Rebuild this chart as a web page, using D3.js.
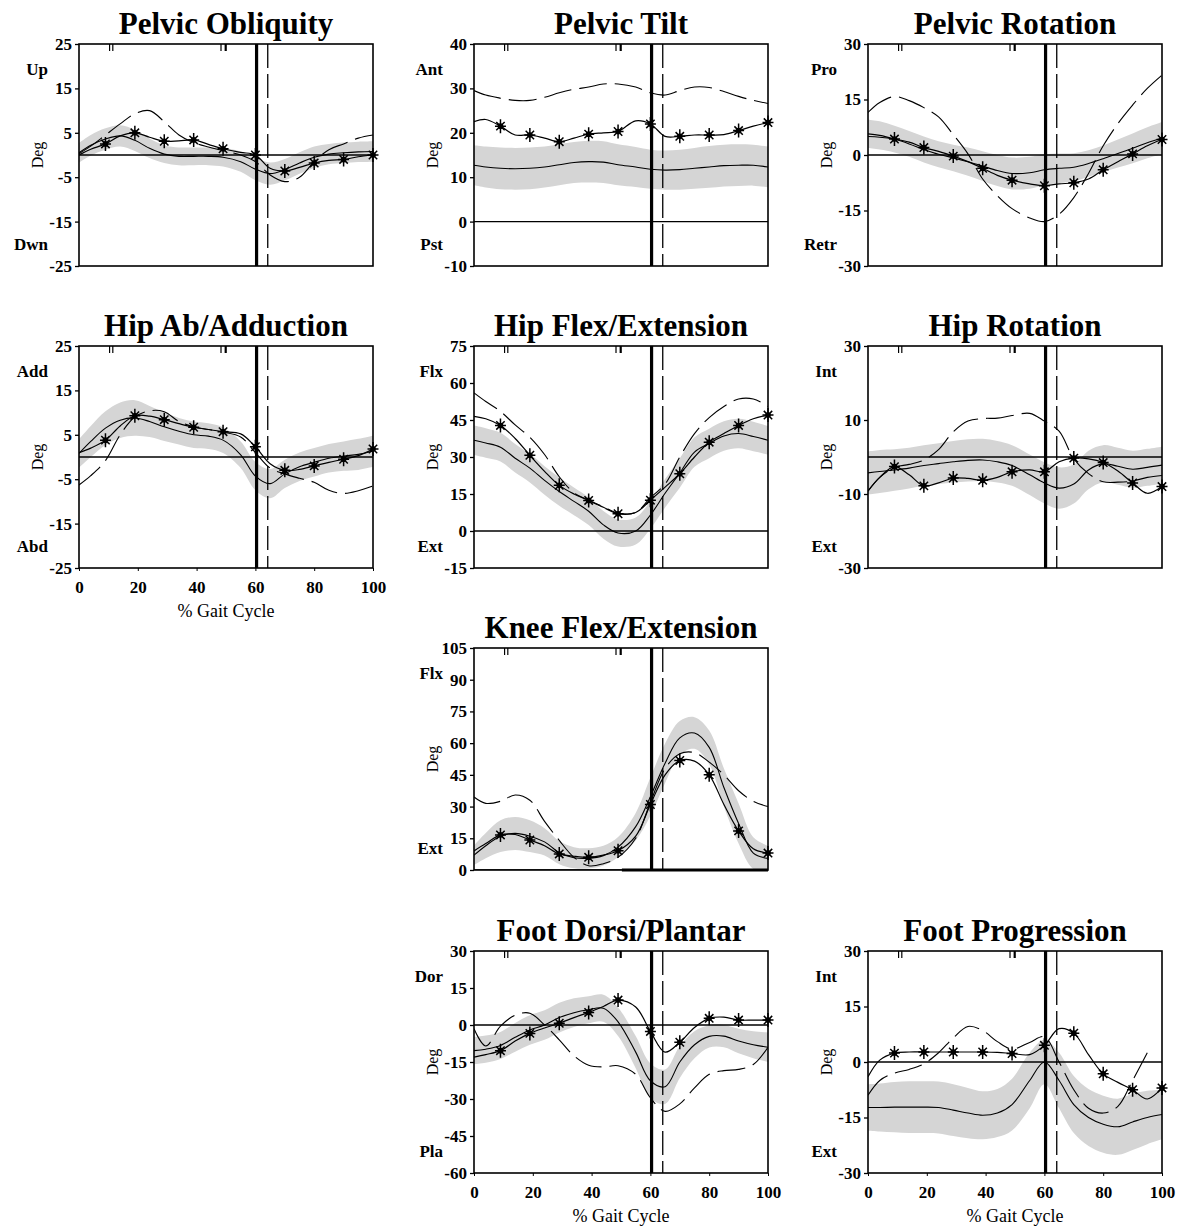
<!DOCTYPE html>
<html><head><meta charset="utf-8">
<script src="https://cdn.jsdelivr.net/npm/d3@7"></script>
<style>body{margin:0;background:#fff}svg text{font-family:"Liberation Serif","Times New Roman",serif;fill:#000}</style>
</head><body><svg id="c" width="1185" height="1230"></svg>
<script>
// ---- shared x grid (% gait cycle) and events ----
const pct = [0,4,9,14,19,24,29,34,39,44,49,55,60,65,70,75,80,85,90,95,100];
const starIdx = [2,4,6,8,10,12,14,16,18,20];
const xTicks = [0,20,40,60,80,100];
const toeOffPatient = 60.4;
const toeOffNormal = 64.2;
const eventTicks = [10.4, 11.5, 48.3, 49.9];
const eventTickWidths = [1.2, 1.2, 1.2, 2.2];
const kneeThickSpan = [50.3, 100];

// ---- Pelvic Obliquity ----
const obliqTicks = [25,15,5,-5,-15,-25];
const obliqMean = [0.5,2.2,3.6,4.3,3.3,1.5,0.2,-0.3,-0.3,-0.3,-0.5,-1.5,-3.2,-4.2,-3.3,-1.8,-0.5,0.2,0.5,0.7,0.8];
const obliqSD = [2.2,2.3,2.4,2.4,2.4,2.2,2.0,2.0,2.0,2.0,2.1,2.3,2.5,2.5,2.4,2.4,2.4,2.3,2.3,2.3,2.3];
const obliqPatient = [0,1.3,2.5,4.3,5.0,4.0,3.1,3.2,3.4,2.4,1.4,0.6,0.0,-3.0,-3.6,-2.8,-1.8,-1.2,-1.0,-0.4,0];
const obliqDashed = [0.3,2,4.5,7,9.3,10,7.5,4.5,2.8,1.8,1.0,0,-1.5,-4.5,-6,-5,-1.5,1.2,2.5,3.8,4.5];

// ---- Pelvic Tilt ----
const tiltTicks = [40,30,20,10,0,-10];
const tiltMean = [12.7,12.3,12.0,11.9,12.0,12.3,12.8,13.3,13.5,13.4,12.8,12.3,11.8,11.6,11.7,12.0,12.3,12.6,12.7,12.7,12.3];
const tiltSD = [4.5,4.6,4.7,4.7,4.7,4.6,4.6,4.6,4.7,4.7,4.6,4.5,4.4,4.4,4.5,4.6,4.7,4.7,4.7,4.6,4.6];
const tiltPatient = [22.5,23,21.5,19.5,19.5,18.8,18,18.8,19.7,20,20.3,22.7,22,19.2,19.2,19.5,19.5,19.6,20.5,21.5,22.3];
const tiltDashed = [29.5,28.5,27.8,27.3,27.3,28,29,29.8,30.3,31,31,30.3,29,28.5,29.5,30.3,30.2,29.3,28.2,27.3,26.6];

// ---- Pelvic Rotation ----
const protTicks = [30,15,0,-15,-30];
const protMean = [5.7,5.3,4.3,3,1.5,0.2,-0.8,-1.8,-3,-4.2,-5,-4.8,-4,-3.6,-3.3,-2.3,-1,0.4,1.8,3.3,4.6];
const protSD = [3.8,3.8,3.6,3.5,3.5,3.5,3.6,3.8,4,4.2,4.3,4.3,4.2,4,3.8,3.6,3.6,3.8,4,4.2,4.3];
const protPatient = [5,4.8,4.3,3.5,2,1,-0.3,-1.8,-3.6,-5.5,-6.8,-7.8,-8.3,-7.8,-7.5,-6.5,-4,-1.8,0.3,2.5,4.2];
const protDashed = [11.5,14.2,15.8,14.7,12.8,10.3,5.5,0.3,-6.5,-11,-14.5,-17,-18,-16,-11.5,-5,2.5,8.5,13.5,18,21.6];

// ---- Hip Ab/Adduction ----
const abdTicks = [25,15,5,-5,-15,-25];
const abdMean = [0.8,3.5,6.5,8.3,8.8,8,6.8,5.8,5,4.7,3.8,0.5,-4.3,-6,-3.8,-2.2,-1.2,-0.3,0.2,0.6,1.3];
const abdSD = [3.2,3.5,3.8,4,4,3.5,3.2,3,3,2.9,2.9,3,3.2,3.3,3.2,3.2,3.2,3.2,3.3,3.5,3.5];
const abdPatient = [1,2,3.8,7,9.3,9.2,8.4,7.5,6.7,6.2,5.7,5.2,2.3,-1.5,-3,-2.8,-2,-1.2,-0.5,0.3,1.8];
const abdDashed = [-6.3,-4.2,-0.8,5,9,10.4,10.2,8,6.8,6.2,5.6,4.5,1,-2.5,-3.8,-4.8,-5.7,-7.5,-8.2,-7.6,-6.5];

// ---- Hip Flex/Extension ----
const hipTicks = [75,60,45,30,15,0,-15];
const hipMean = [36.8,35.7,34,29.5,25.5,20.5,16,12,8,2.5,-0.8,0,6.5,15.3,23.5,32,35.5,38.5,39.5,38.3,36.8];
const hipSD = [6,6,5.8,5.8,5.8,5.8,5.8,5.6,5.6,5.6,5.5,5.5,5.6,5.8,6,6,6,6,6,6,5.8];
const hipPatient = [46.5,45.5,42.8,37.5,30.7,24.2,18.5,15,12.4,9.6,7.0,7.5,12.5,17.8,23.2,30,36,39.5,42.8,45.5,47];
const hipDashed = [56,52.5,48.5,43,38,31,22,15.5,12.5,9.8,7.3,7.5,13.5,19,30,39.5,46,50.5,53.5,53.5,50.5];

// ---- Hip Rotation ----
const hrotTicks = [30,10,-10,-30];
const hrotMean = [-4.3,-3.9,-3.5,-3,-2.3,-1.8,-1.3,-0.9,-0.8,-1.3,-2.3,-4.8,-7,-8.4,-7.3,-3.5,-1.8,-2.5,-3.3,-2.8,-2.2];
const hrotSD = [5.8,5.8,5.6,5.5,5.5,5.5,5.6,5.7,5.7,5.6,5.5,5.5,5.6,5.6,5.3,5.2,5,5,5,5,5];
const hrotPatient = [-9.2,-5.5,-2.6,-4.8,-7.8,-7,-5.7,-5.8,-6.3,-5.5,-4,-3.5,-4,-1.3,-0.3,-0.5,-1.5,-3.8,-7,-9.8,-8];
const hrotDashed = [-9.2,-5.5,-2.8,-2,-0.8,2,6.8,9.7,10.4,10.5,11.2,11.8,9.7,7,-0.5,-4.5,-6.7,-6.8,-6.5,-5.5,-5];

// ---- Knee Flex/Extension ----
const kneeTicks = [105,90,75,60,45,30,15,0];
const kneeMean = [7,11.5,16,17.3,16,13.3,8.2,5.8,5.5,6.8,10.8,20.5,34.7,50.5,62.5,64.8,58,39,22,8,5.5];
const kneeSD = [4.7,6,7.5,7.8,7.5,6.5,5.5,5,4.8,4.7,4.8,6.5,9,9.3,8,7.5,8,9,9.5,7.5,6];
const kneePatient = [9,12.5,16.6,16.8,14.2,11.5,7.6,6.5,6,7,9.1,16,31,45,51.8,51.5,45,31,18.5,10,8];
const kneeDashed = [34.5,31.5,32.5,35.5,33,23,14,6,2,3,6,15,32,48,55,55.5,51,45,37.5,32.5,30];

// ---- Foot Dorsi/Plantar ----
const ankTicks = [30,15,0,-15,-30,-45,-60];
const ankMean = [-10.4,-9.8,-8.3,-5,-2,0,3,5,6.2,6.8,1.3,-11,-22.6,-25,-15,-8,-4.6,-4.5,-6.5,-8,-9];
const ankSD = [5.5,5.5,5.5,5.8,6,6,6,5.8,5.5,5.5,5.8,6.5,7,7,6.5,5.5,4.5,4.5,5,5.5,6];
const ankPatient = [-13,-12,-10.4,-6.5,-3.4,-1.2,0.7,3,5.1,7.5,10.1,7.3,-2.6,-11,-7,-1,2.7,3.2,2,2,2];
const ankDashed = [-1.5,-8.5,-0.5,4,4.8,0,-6,-12.5,-16.3,-17,-16.5,-20,-29.5,-35,-32,-25.5,-20,-18.5,-18,-16,-9];

// ---- Foot Progression ----
const fpaTicks = [30,15,0,-15,-30];
const fpaMean = [-12.3,-12.3,-12.2,-12.2,-12.2,-12.3,-13,-13.8,-14.4,-13.8,-11.5,-5,0,-5,-11.5,-15,-16.8,-17.5,-16.2,-15,-14.2];
const fpaSD = [6.3,6.5,6.8,7,7,7,7,6.8,6.5,6.5,7,7.5,6,7.5,7.7,7.7,7.7,7.6,7.6,7.2,6.7];
const fpaPatient = [-4,0.5,2.4,2.7,2.7,2.7,2.7,2.7,2.7,2.6,2.3,2,4.5,9,7.8,2,-3.2,-5.5,-7.5,-10,-7];
const fpaDashed = [-9,-5,-3,-2,-0.5,2.5,6.5,9.6,8.5,5.5,3.5,5.3,6.8,0,-7.5,-12.5,-13.8,-12,-5,2.5,null];

// ---- panel list (built from the arrays above) ----
const panels = [
  {title:"Pelvic Obliquity", col:0,row:0, domain:[-25,25], ticks:obliqTicks, dir:["Up","Dwn"], mean:obliqMean, sd:obliqSD, pat:obliqPatient, dash:obliqDashed},
  {title:"Pelvic Tilt", col:1,row:0, domain:[-10,40], ticks:tiltTicks, dir:["Ant","Pst"], mean:tiltMean, sd:tiltSD, pat:tiltPatient, dash:tiltDashed},
  {title:"Pelvic Rotation", col:2,row:0, domain:[-30,30], ticks:protTicks, dir:["Pro","Retr"], mean:protMean, sd:protSD, pat:protPatient, dash:protDashed},
  {title:"Hip Ab/Adduction", col:0,row:1, domain:[-25,25], ticks:abdTicks, dir:["Add","Abd"], mean:abdMean, sd:abdSD, pat:abdPatient, dash:abdDashed, xAxis:true},
  {title:"Hip Flex/Extension", col:1,row:1, domain:[-15,75], ticks:hipTicks, dir:["Flx","Ext"], mean:hipMean, sd:hipSD, pat:hipPatient, dash:hipDashed},
  {title:"Hip Rotation", col:2,row:1, domain:[-30,30], ticks:hrotTicks, dir:["Int","Ext"], mean:hrotMean, sd:hrotSD, pat:hrotPatient, dash:hrotDashed},
  {title:"Knee Flex/Extension", col:1,row:2, domain:[0,105], ticks:kneeTicks, dir:["Flx","Ext"], mean:kneeMean, sd:kneeSD, pat:kneePatient, dash:kneeDashed, thick:kneeThickSpan},
  {title:"Foot Dorsi/Plantar", col:1,row:3, domain:[-60,30], ticks:ankTicks, dir:["Dor","Pla"], mean:ankMean, sd:ankSD, pat:ankPatient, dash:ankDashed, xAxis:true},
  {title:"Foot Progression", col:2,row:3, domain:[-30,30], ticks:fpaTicks, dir:["Int","Ext"], mean:fpaMean, sd:fpaSD, pat:fpaPatient, dash:fpaDashed, xAxis:true}
];

const svg = d3.select("#c");
const W = 294, H = 222;
const colX = [79, 474, 868], rowY = [44, 346, 648, 951];
const curve = d3.curveCatmullRom.alpha(0.5);
const starPath = "M0,-7V7M-5.5,0H5.5M-4.2,-4.2L4.2,4.2M-4.2,4.2L4.2,-4.2";

panels.forEach((p, i) => {
  const g = svg.append("g").attr("transform", `translate(${colX[p.col]},${rowY[p.row]})`);
  const x = d3.scaleLinear().domain([0,100]).range([0,W]);
  const y = d3.scaleLinear().domain(p.domain).range([H,0]);
  const clipId = "clip" + i;
  g.append("clipPath").attr("id", clipId).append("rect").attr("width", W).attr("height", H);
  const pg = g.append("g").attr("clip-path", `url(#${clipId})`);
  const rows = pct.map((t,j) => ({t, m:p.mean[j], s:p.sd[j], pv:p.pat[j], dv:p.dash[j]}));

  // normative band
  pg.append("path").datum(rows)
    .attr("d", d3.area().x(d=>x(d.t)).y0(d=>y(d.m-d.s)).y1(d=>y(d.m+d.s)).curve(curve))
    .attr("fill", "#d5d5d5");
  // zero line
  pg.append("line").attr("x1",0).attr("x2",W).attr("y1",y(0)).attr("y2",y(0))
    .attr("stroke","#000").attr("stroke-width",1.3);
  // toe-off lines
  pg.append("line").attr("x1",x(toeOffPatient)).attr("x2",x(toeOffPatient)).attr("y1",0).attr("y2",H)
    .attr("stroke","#000").attr("stroke-width",3.2);
  pg.append("line").attr("x1",x(toeOffNormal)).attr("x2",x(toeOffNormal)).attr("y1",0).attr("y2",H)
    .attr("stroke","#000").attr("stroke-width",1.3).attr("stroke-dasharray","24,6");
  // event ticks at top
  eventTicks.forEach((e,k) => {
    pg.append("line").attr("x1",x(e)).attr("x2",x(e)).attr("y1",0).attr("y2",7)
      .attr("stroke","#000").attr("stroke-width",eventTickWidths[k]);
  });
  const lineGen = key => d3.line().defined(d => d[key] != null).x(d=>x(d.t)).y(d=>y(d[key])).curve(curve);
  // normative mean
  pg.append("path").datum(rows).attr("d", lineGen("m")).attr("fill","none").attr("stroke","#000").attr("stroke-width",1.1);
  // dashed series
  pg.append("path").datum(rows).attr("d", lineGen("dv")).attr("fill","none").attr("stroke","#000")
    .attr("stroke-width",1.1).attr("stroke-dasharray","28,8");
  // patient series with stars
  pg.append("path").datum(rows).attr("d", lineGen("pv")).attr("fill","none").attr("stroke","#000").attr("stroke-width",1.2);
  const stars = g.append("g").selectAll("g").data(starIdx.map(j => rows[j])).join("g")
    .attr("transform", d => `translate(${x(d.t)},${y(d.pv)})`);
  stars.append("path").attr("d", starPath).attr("stroke","#000").attr("stroke-width",1.5).attr("fill","none");
  stars.append("circle").attr("r",2.8).attr("fill","#000");

  if (p.thick) {
    g.append("line").attr("x1",x(p.thick[0])).attr("x2",x(p.thick[1])).attr("y1",y(0)).attr("y2",y(0))
      .attr("stroke","#000").attr("stroke-width",3);
  }
  // frame
  g.append("rect").attr("width",W).attr("height",H).attr("fill","none").attr("stroke","#000").attr("stroke-width",1.6);

  // y axis
  const ya = g.append("g").call(d3.axisLeft(y).tickValues(p.ticks).tickSize(4).tickPadding(3).tickFormat(d => String(d)));
  ya.select(".domain").remove();
  ya.selectAll("text").attr("font-size", 17).attr("font-weight","bold").attr("font-family", '"Liberation Serif", serif');
  ya.selectAll("line").attr("stroke-width", 1.3);

  if (p.xAxis) {
    const xa = g.append("g").attr("transform", `translate(0,${H})`)
      .call(d3.axisBottom(x).tickValues(xTicks).tickSize(3).tickPadding(10).tickFormat(d => String(d)));
    xa.select(".domain").remove();
    xa.selectAll("text").attr("font-size", 17).attr("font-weight","bold").attr("font-family", '"Liberation Serif", serif');
    g.append("text").attr("x", W/2).attr("y", H+49).attr("text-anchor","middle")
      .attr("font-size", 18).text("% Gait Cycle");
  }

  // title
  g.append("text").attr("x", W/2).attr("y", -10).attr("text-anchor","middle")
    .attr("font-size", 31).attr("font-weight","bold").text(p.title);
  // direction labels
  g.append("text").attr("x", -31).attr("y", 25).attr("dy","0.35em").attr("text-anchor","end")
    .attr("font-size", 17).attr("font-weight","bold").text(p.dir[0]);
  g.append("text").attr("x", -31).attr("y", 200).attr("dy","0.35em").attr("text-anchor","end")
    .attr("font-size", 17).attr("font-weight","bold").text(p.dir[1]);
  // Deg label
  g.append("text").attr("transform", `translate(-42,${H/2}) rotate(-90)`).attr("dy","0.35em")
    .attr("text-anchor","middle").attr("font-size", 16).text("Deg");
});
</script>
</body></html>
